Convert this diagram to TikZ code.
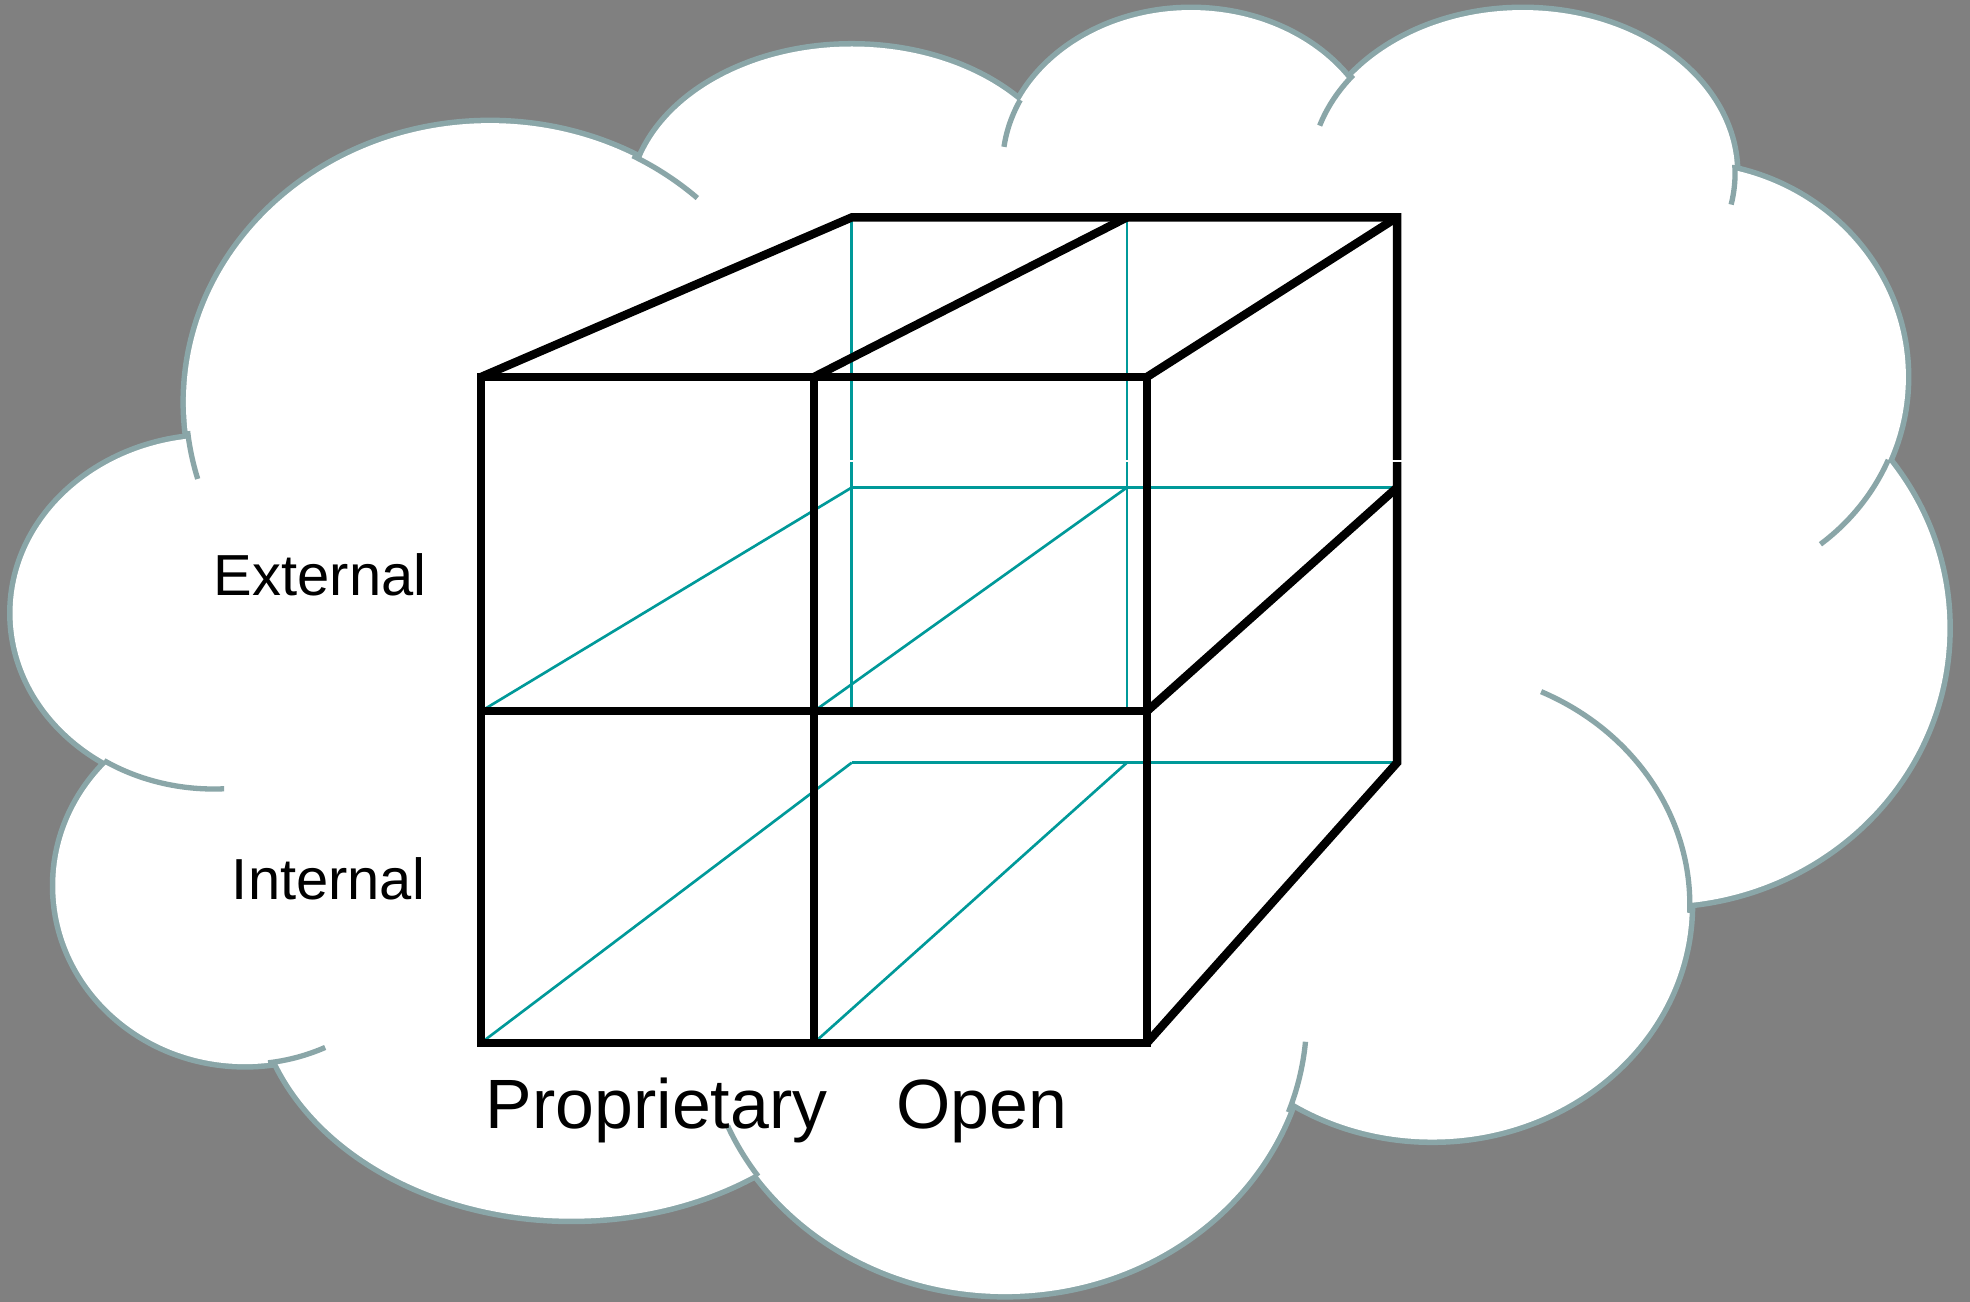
\documentclass[tikz,border=0pt]{standalone}
\usepackage{fontspec}
\setmainfont{Liberation Sans}
\usetikzlibrary{calc}

\definecolor{bggray}{RGB}{128,128,128}
\definecolor{cloudline}{RGB}{138,166,168}
\definecolor{hidden}{RGB}{0,153,153}

\begin{document}
\begin{tikzpicture}[x=0.01cm,y=-0.01cm,
	edge/.style={line width=1.9pt,black,line join=miter},
	backedge/.style={line width=0.6pt,hidden},
	rim/.style={line width=2.5pt,cloudline},
	innerrim/.style={line width=1.2pt,cloudline},
	axislabel/.style={inner sep=0pt,font=\fontsize{13.1}{15}\selectfont},
	kindlabel/.style={inner sep=0pt,font=\fontsize{15.8}{19}\selectfont}]
\useasboundingbox (0,0) rectangle (1568,1036);
\fill [bggray] (0,0) rectangle (1568,1036);

% cloud: lobes as centre x / centre y / x radius / y radius
\foreach \cx/\cy/\rx/\ry in {170/488/160/140, 390/320/242/222, 678/162/175/125,
	948/132/150/124, 1212/138/169/130, 1340/300/177/169, 1320/500/230/220,
	1140/720/205/187, 800/810/240/220, 455/780/250/190, 195/705/151/142}
	{
	\draw [rim] (\cx,\cy) ellipse [x radius=\rx, y radius=\ry];
	}
\fill [white] (170,488) -- (390,320) -- (678,162) -- (948,132) -- (1212,138)
	-- (1340,300) -- (1320,500) -- (1140,720) -- (800,810) -- (455,780)
	-- (195,705) -- cycle;
\foreach \cx/\cy/\rx/\ry in {170/488/160/140, 390/320/242/222, 678/162/175/125,
	948/132/150/124, 1212/138/169/130, 1340/300/177/169, 1320/500/230/220,
	1140/720/205/187, 800/810/240/220, 455/780/250/190, 195/705/151/142}
	{
	\fill [white] (\cx,\cy) ellipse [x radius=\rx, y radius=\ry];
	}

% the bits of lobes that show inside the cloud
\foreach \cx/\cy/\rx/\ry/\a/\b in {390/320/242/222/164/174, 390/320/242/222/-62/-47,
	170/488/160/140/87/123, 948/132/150/124/187/205, 1212/138/169/130/197/217,
	1212/138/169/130/-3/11, 1340/300/177/169/23/52, 1140/720/205/187/-65/2,
	800/810/240/220/5/20, 800/810/240/220/145/157, 195/705/151/142/65/83}
	{
	\draw [innerrim] (\cx,\cy) ++(\a:{\rx} and {\ry})
		arc [start angle=\a, end angle=\b, x radius=\rx, y radius=\ry];
	}

% cube corners, front face then back face
\coordinate (ftl) at (383,300);
\coordinate (ftm) at (648,300);
\coordinate (ftr) at (913,300);
\coordinate (fml) at (383,566);
\coordinate (fmm) at (648,566);
\coordinate (fmr) at (913,566);
\coordinate (fbl) at (383,830);
\coordinate (fbm) at (648,830);
\coordinate (fbr) at (913,830);
\coordinate (btl) at (678,173);
\coordinate (btm) at (897,173);
\coordinate (btr) at (1112,173);
\coordinate (bml) at (678,388);
\coordinate (bmm) at (897,388);
\coordinate (bmr) at (1112,388);
\coordinate (bbl) at (678,607);
\coordinate (bbm) at (897,607);
\coordinate (bbr) at (1112,607);
\coordinate (hl) at (678,566);
\coordinate (hm) at (897,566);

\draw [backedge] (btl) -- (hl);
\draw [backedge] (btm) -- (hm);
\draw [backedge] (bml) -- (bmr);
\draw [backedge] (bbl) -- (bbr);
\draw [backedge] (fml) -- (bml);
\draw [backedge] (fmm) -- (bmm);
\draw [backedge] (fbl) -- (bbl);
\draw [backedge] (fbm) -- (bbm);

\draw [edge] (ftl) rectangle (fbr);
\draw [edge] (ftm) -- (fbm);
\draw [edge] (fml) -- (fmr);
\draw [edge] (ftl) -- (btl) -- (btr) -- (bbr) -- (fbr);
\draw [edge] (ftm) -- (btm);
\draw [edge] (ftr) -- (btr);
\draw [edge] (fmr) -- (bmr);

% thin white nicks across the back verticals
\foreach \x in {678, 897, 1112}
	{
	\draw [white, line width=0.3pt] (\x-4,367) -- (\x+4,367);
	}

\node [axislabel,anchor=base east] (ext) at (340,474) {External};
\node [axislabel,anchor=base east] (int) at (339,716) {Internal};
\node [kindlabel,anchor=base west] (prop) at (386,898) {Proprietary};
\node [kindlabel,anchor=base west] (open) at (713,898) {Open};
\end{tikzpicture}
\end{document}
